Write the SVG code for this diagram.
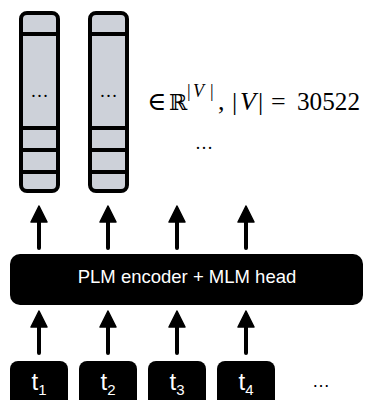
<svg xmlns="http://www.w3.org/2000/svg" width="366" height="400" viewBox="0 0 366 400">
<defs>
<style>
.col{fill:#cdd1d9;stroke:#000;stroke-width:4}
.div{stroke:#000;stroke-width:4}
.blk{fill:#000}
.shaft{stroke:#000;stroke-width:4;stroke-linecap:round;fill:none}
.head{fill:#000;stroke:#000;stroke-width:1.5;stroke-linejoin:round}
.sans{font-family:"Liberation Sans",Arial,Helvetica,sans-serif}
.serif{font-family:"Liberation Serif","DejaVu Serif",serif}
.wt{fill:#fff}
</style>
</defs>
<rect width="366" height="400" fill="#fff"/>
<g id="vec1">
<rect class="col" x="21" y="13" width="37" height="178" rx="6"/>
<line class="div" x1="21" y1="34" x2="58" y2="34"/>
<line class="div" x1="21" y1="128" x2="58" y2="128"/>
<line class="div" x1="21" y1="150" x2="58" y2="150"/>
<line class="div" x1="21" y1="172" x2="58" y2="172"/>
<text class="serif" x="39.5" y="97" font-size="18" text-anchor="middle">…</text>
</g>
<g id="vec2">
<rect class="col" x="90" y="13" width="37" height="178" rx="6"/>
<line class="div" x1="90" y1="34" x2="127" y2="34"/>
<line class="div" x1="90" y1="128" x2="127" y2="128"/>
<line class="div" x1="90" y1="150" x2="127" y2="150"/>
<line class="div" x1="90" y1="172" x2="127" y2="172"/>
<text class="serif" x="108.5" y="97" font-size="18" text-anchor="middle">…</text>
</g>
<g id="math">
<text class="serif" y="110" font-size="26">
<tspan x="147">∈</tspan><tspan x="169" font-family="DejaVu Serif, serif" font-size="22">ℝ</tspan><tspan x="187" y="97" font-size="18">|</tspan><tspan x="193" y="97" font-size="18" font-style="italic">V</tspan><tspan x="210" y="97" font-size="18">|</tspan><tspan x="218" y="110">,</tspan><tspan x="232">|</tspan><tspan x="240" font-style="italic">V</tspan><tspan x="258">|</tspan><tspan x="271">=</tspan><tspan x="297" textLength="63" lengthAdjust="spacingAndGlyphs">30522</tspan>
</text>
<text class="serif" x="204" y="149" font-size="18" text-anchor="middle">…</text>
</g>
<g id="connectors">
<path class="shaft" d="M39 248V218M108 248V218M177 248V218M246 248V218"/>
<path class="head" d="M39 206L31 222H47Z M108 206L100 222H116Z M177 206L169 222H185Z M246 206L238 222H254Z"/>
<path class="shaft" d="M39 353V323M108 353V323M177 353V323M246 353V323"/>
<path class="head" d="M39 311L31 327H47Z M108 311L100 327H116Z M177 311L169 327H185Z M246 311L238 327H254Z"/>
</g>
<g id="encoder">
<rect class="blk" x="10" y="254" width="353" height="51" rx="10"/>
<text class="sans wt" x="187" y="283" font-size="18.5" text-anchor="middle">PLM encoder + MLM head</text>
</g>
<g id="t1">
<rect class="blk" x="10" y="361" width="58" height="50" rx="8"/>
<text class="sans wt" x="39" y="390" font-size="24" text-anchor="middle">t<tspan font-size="15" dy="5">1</tspan></text>
</g>
<g id="t2">
<rect class="blk" x="79" y="361" width="58" height="50" rx="8"/>
<text class="sans wt" x="108" y="390" font-size="24" text-anchor="middle">t<tspan font-size="15" dy="5">2</tspan></text>
</g>
<g id="t3">
<rect class="blk" x="148" y="361" width="58" height="50" rx="8"/>
<text class="sans wt" x="177" y="390" font-size="24" text-anchor="middle">t<tspan font-size="15" dy="5">3</tspan></text>
</g>
<g id="t4">
<rect class="blk" x="217" y="361" width="58" height="50" rx="8"/>
<text class="sans wt" x="246" y="390" font-size="24" text-anchor="middle">t<tspan font-size="15" dy="5">4</tspan></text>
</g>
<g id="more">
<text class="sans" x="321" y="387" font-size="18" text-anchor="middle">…</text>
</g>
</svg>
